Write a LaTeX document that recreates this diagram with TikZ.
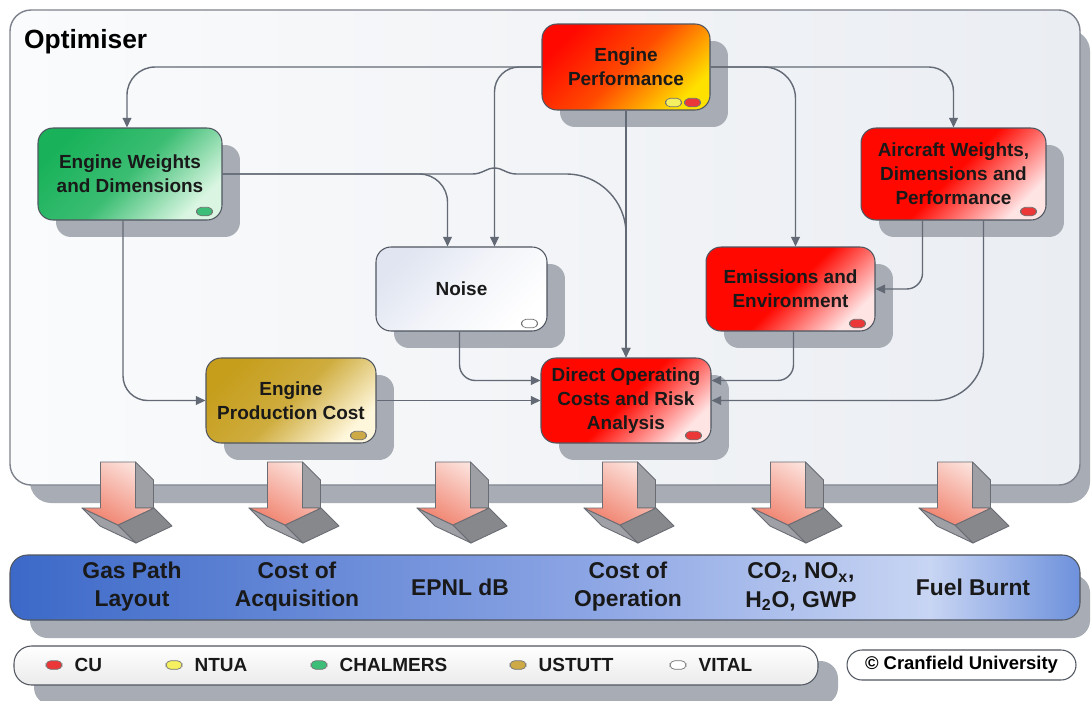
\documentclass[tikz,border=0pt]{standalone}
\usepackage{fontspec}
\setmainfont{Liberation Sans}
\usetikzlibrary{calc,arrows.meta,positioning,shadows}
\definecolor{lineGrey}{RGB}{99,106,117}
\definecolor{shadowGrey}{RGB}{168,173,181}
\definecolor{panelEdge}{RGB}{125,130,140}
\definecolor{panelLight}{RGB}{250,251,252}
\definecolor{panelDark}{RGB}{234,237,242}
\definecolor{boxEdge}{RGB}{80,86,96}
\definecolor{perfRed}{RGB}{255,8,0}
\definecolor{perfOrange}{RGB}{255,75,0}
\definecolor{perfYellow}{RGB}{255,225,0}
\definecolor{cuRed}{RGB}{235,55,55}
\definecolor{cuPale}{RGB}{255,228,228}
\definecolor{chGreen}{RGB}{25,178,90}
\definecolor{chPale}{RGB}{218,246,226}
\definecolor{usGold}{RGB}{198,158,28}
\definecolor{usPale}{RGB}{255,247,220}
\definecolor{vitalBlue}{RGB}{224,229,241}
\definecolor{ntuaYellow}{RGB}{245,240,95}
\definecolor{pillGreen}{RGB}{60,190,120}
\definecolor{pillGold}{RGB}{205,170,70}
\definecolor{barBlue}{RGB}{60,105,200}
\definecolor{barMid}{RGB}{140,165,228}
\definecolor{barPale}{RGB}{200,213,243}
\definecolor{barEnd}{RGB}{110,145,220}
\definecolor{arrowPink}{RGB}{240,130,110}
\definecolor{arrowPale}{RGB}{252,226,220}
\definecolor{arrowSide}{RGB}{158,160,165}
\definecolor{arrowEdge}{RGB}{105,108,115}
\pgfdeclarehorizontalshading{barshade}{100bp}{color(0bp)=(barBlue); color(25bp)=(barBlue);
  color(52bp)=(barMid); color(68bp)=(barPale); color(75bp)=(barEnd); color(100bp)=(barEnd)}

\begin{document}
\begin{tikzpicture}[x=0.02cm,y=-0.02cm,
  procbox/.style={rectangle,rounded corners=8.5pt,draw=boxEdge,line width=.6pt,align=center,
    font=\bfseries\fontsize{10.8}{13.6}\selectfont,text=black!90,
    drop shadow={shadow xshift=.36cm,shadow yshift=-.34cm,fill=shadowGrey,opacity=1}},
  redshade/.style={top color=perfRed,bottom color=cuPale,middle color=perfRed,shading angle=45},
  linkarrow/.style={draw=lineGrey,line width=.8pt,rounded corners=9pt,-{Triangle[length=5.5pt,width=5pt]}},
  pill/.style={rectangle,rounded corners=2.6pt,minimum width=.32cm,minimum height=.17cm,inner sep=0pt,draw=black!55,line width=.4pt},
  barlabel/.style={align=center,font=\bfseries\fontsize{13}{16}\selectfont,text=black!90},
  legtext/.style={inner sep=0pt,font=\bfseries\fontsize{10.8}{13}\selectfont,text=black!90},
  outarrow/.pic={
    \path[fill=arrowSide,draw=arrowEdge,line width=.5pt,line join=round] (17.5,0)--(35.5,18)--(35.5,46)--(17.5,46)--cycle;
    \path[fill=arrowSide,draw=arrowEdge,line width=.5pt,line join=round] (-36,46)--(0,63)--(18,81)--(-18,64)--cycle;
    \path[fill=arrowSide!85!black,draw=arrowEdge,line width=.5pt,line join=round] (0,63)--(36,46)--(54,64)--(18,81)--cycle;
    \path[draw=arrowEdge,line width=.5pt,line join=round,top color=arrowPale,bottom color=arrowPink,shading angle=-30]
      (-17.5,0)--(17.5,0)--(17.5,46)--(36,46)--(0,63)--(-36,46)--(-17.5,46)--cycle;
  }]
\clip (0,0) rectangle (1091,700);
\fill[white] (0,0) rectangle (1091,700);

\fill[shadowGrey,rounded corners=12pt] (30,30) rectangle (1090,503);
\draw[panelEdge,line width=.8pt,rounded corners=12pt,left color=panelLight,right color=panelDark] (10,10) rectangle (1080,485);
\node[anchor=west,font=\bfseries\fontsize{15}{18}\selectfont] (title) at (18,42) {Optimiser};

\node[procbox,top color=perfRed,bottom color=perfYellow,middle color=perfOrange,shading angle=45,
  minimum width=3.36cm,minimum height=1.72cm] (perf) at (626,67) {Engine\\Performance};
\node[procbox,top color=chGreen,bottom color=chPale,middle color=chGreen!85!white,shading angle=45,
  minimum width=3.68cm,minimum height=1.84cm] (ewd) at (130,174) {Engine Weights\\and Dimensions};
\node[procbox,redshade,minimum width=3.7cm,minimum height=1.84cm] (awd) at (953.5,174) {Aircraft Weights,\\Dimensions and\\Performance};
\node[procbox,top color=vitalBlue,bottom color=white,middle color=vitalBlue!40!white,shading angle=45,
  minimum width=3.42cm,minimum height=1.68cm] (noise) at (461.5,289) {Noise};
\node[procbox,redshade,minimum width=3.38cm,minimum height=1.68cm] (emis) at (790.5,289) {Emissions and\\Environment};
\node[procbox,top color=usGold,bottom color=usPale,middle color=usGold!85!white,shading angle=45,
  minimum width=3.4cm,minimum height=1.7cm] (epc) at (291,400.5) {Engine\\Production Cost};
\node[procbox,redshade,minimum width=3.4cm,minimum height=1.7cm] (doc) at (626,400.5) {Direct Operating\\Costs and Risk\\Analysis};

\node[pill,fill=ntuaYellow] at ($(perf.south east)+(-37,-8)$) {};
\node[pill,fill=cuRed] at ($(perf.south east)+(-18,-8)$) {};
\node[pill,fill=pillGreen] at ($(ewd.south east)+(-18,-9)$) {};
\node[pill,fill=cuRed] at ($(awd.south east)+(-18,-9)$) {};
\node[pill,fill=white] at ($(noise.south east)+(-18,-8)$) {};
\node[pill,fill=cuRed] at ($(emis.south east)+(-18,-8)$) {};
\node[pill,fill=pillGold] at ($(epc.south east)+(-18,-8)$) {};
\node[pill,fill=cuRed] at ($(doc.south east)+(-18,-8)$) {};

\draw[linkarrow,rounded corners=16pt] (perf.west) -| ($(ewd.north)+(-3,0)$);
\draw[linkarrow,rounded corners=14pt] (perf.west) -| ($(noise.north)+(33,0)$);
\draw[linkarrow,rounded corners=18pt] (perf.east) -| ($(emis.north)+(5,0)$);
\draw[linkarrow,rounded corners=14pt] (perf.east) -| (awd.north);
\draw[linkarrow] (perf.south) -- (doc.north);
\draw[linkarrow,rounded corners=16pt] (ewd.east) -| ($(noise.north)+(-14,0)$);
\coordinate (hop) at ($(ewd.east -| noise.north)+(33,0)$);
\draw[linkarrow,sharp corners] (ewd.east) -- ($(hop)+(-22,0)$)
  .. controls ($(hop)+(-12,0)$) and ($(hop)+(-8,-6)$) .. ($(hop)+(0,-6)$)
  .. controls ($(hop)+(8,-6)$) and ($(hop)+(12,0)$) .. ($(hop)+(22,0)$)
  [rounded corners=34pt] -| (doc.north);
\draw[linkarrow,rounded corners=14pt] ($(ewd.south)+(-7,0)$) |- (epc.west);
\draw[linkarrow] (epc.east) -- (doc.west);
\draw[linkarrow] ($(noise.south)+(-2,0)$) |- ($(doc.west)+(0,-20)$);
\draw[linkarrow] ($(emis.south)+(3,0)$) |- ($(doc.east)+(0,-20)$);
\draw[linkarrow] ($(awd.south)+(-31,0)$) |- (emis.east);
\draw[linkarrow,rounded corners=28pt] ($(awd.south)+(30,0)$) |- (doc.east);

\foreach \ax in {118,285,453,620,788,955}
  \pic at (\ax,462) {outarrow};

\fill[shadowGrey,rounded corners=10pt] (30,575) rectangle (1090,638);
\draw[boxEdge,line width=.6pt,rounded corners=10pt,shading=barshade] (10,555) rectangle (1080,620);
\node[barlabel] (gasPath) at (132,587) {Gas Path\\Layout};
\node[barlabel] (costAcq) at (297,587) {Cost of\\Acquisition};
\node[barlabel] (epnl) at (460,587) {EPNL dB};
\node[barlabel] (costOp) at (628,587) {Cost of\\Operation};
\node[barlabel] (emisOut) at (801,587) {CO\textsubscript{2}, NO\textsubscript{x},\\H\textsubscript{2}O, GWP};
\node[barlabel] (fuel) at (973,587) {Fuel Burnt};

\fill[shadowGrey,rounded corners=10pt] (34,661) rectangle (838,705);
\draw[boxEdge,line width=.6pt,rounded corners=10pt,top color=white,bottom color=black!8] (14,646) rectangle (818,685);
\node[pill,fill=cuRed] (pCU) at (54,665) {};
\node[legtext,right=.24cm of pCU] (tCU) {CU};
\node[pill,fill=ntuaYellow] (pNTUA) at (174,665) {};
\node[legtext,right=.24cm of pNTUA] (tNTUA) {NTUA};
\node[pill,fill=pillGreen] (pCH) at (319,665) {};
\node[legtext,right=.24cm of pCH] (tCH) {CHALMERS};
\node[pill,fill=pillGold] (pUS) at (518,665) {};
\node[legtext,right=.24cm of pUS] (tUS) {USTUTT};
\node[pill,fill=white] (pVI) at (678,665) {};
\node[legtext,right=.24cm of pVI] (tVI) {VITAL};

\node[draw=boxEdge,line width=.6pt,rounded corners=8.5pt,fill=white,minimum width=4.58cm,minimum height=.6cm,
  font=\bfseries\fontsize{10.5}{12}\selectfont] (copy) at (961.5,665) {© Cranfield University};
\end{tikzpicture}
\end{document}
